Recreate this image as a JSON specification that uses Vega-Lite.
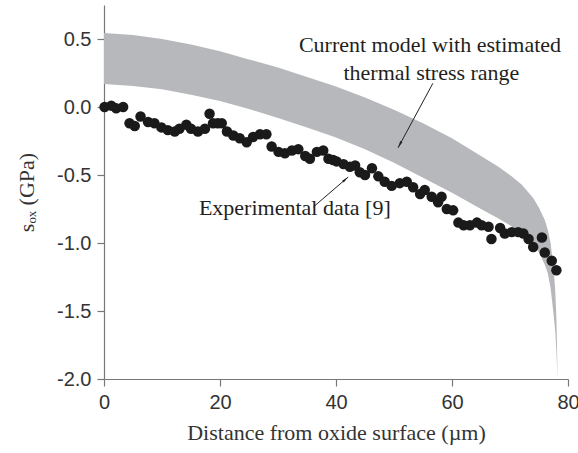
{
  "$schema": "https://vega.github.io/schema/vega-lite/v6.json",
  "width": 464,
  "height": 374,
  "autosize": {"type": "none"},
  "padding": {"left": 104, "top": 5, "right": 10, "bottom": 74},
  "background": "white",
  "config": {
    "view": {"stroke": null},
    "axis": {
      "grid": false,
      "domainColor": "#777777",
      "tickColor": "#777777",
      "domainWidth": 1.2,
      "tickWidth": 1.2,
      "tickSize": 7,
      "labelFont": "Liberation Sans",
      "labelFontSize": 20,
      "labelColor": "#333333",
      "titleFont": "Liberation Serif",
      "titleFontSize": 22,
      "titleFontWeight": "normal",
      "titleColor": "#333333"
    }
  },
  "datasets": {
    "band": [
      {"x": 0, "hi": 0.545, "lo": 0.17},
      {"x": 5, "hi": 0.53, "lo": 0.155},
      {"x": 10, "hi": 0.5, "lo": 0.13},
      {"x": 15, "hi": 0.46, "lo": 0.09},
      {"x": 20, "hi": 0.41, "lo": 0.045},
      {"x": 25, "hi": 0.35, "lo": -0.015},
      {"x": 30, "hi": 0.29, "lo": -0.08},
      {"x": 35, "hi": 0.22, "lo": -0.15},
      {"x": 40, "hi": 0.15, "lo": -0.225},
      {"x": 45, "hi": 0.07, "lo": -0.31},
      {"x": 50, "hi": -0.02, "lo": -0.41},
      {"x": 55, "hi": -0.12, "lo": -0.52},
      {"x": 60, "hi": -0.23, "lo": -0.63},
      {"x": 65, "hi": -0.36, "lo": -0.75},
      {"x": 68, "hi": -0.44, "lo": -0.82},
      {"x": 70, "hi": -0.5, "lo": -0.87},
      {"x": 72, "hi": -0.57, "lo": -0.93},
      {"x": 74, "hi": -0.67, "lo": -1.01},
      {"x": 75, "hi": -0.74, "lo": -1.07},
      {"x": 76, "hi": -0.83, "lo": -1.16},
      {"x": 76.5, "hi": -0.9, "lo": -1.22},
      {"x": 77, "hi": -1.0, "lo": -1.33},
      {"x": 77.5, "hi": -1.18, "lo": -1.52},
      {"x": 77.8, "hi": -1.35, "lo": -1.65},
      {"x": 78.0, "hi": -1.55, "lo": -1.8},
      {"x": 78.1, "hi": -1.75, "lo": -1.9},
      {"x": 78.2, "hi": -2.0, "lo": -2.0}
    ],
    "dots": [
      {"x": 0.1, "y": 0.0}, {"x": 1.26, "y": 0.01}, {"x": 2.1, "y": -0.01}, {"x": 3.3, "y": 0.0},
      {"x": 4.4, "y": -0.12}, {"x": 5.3, "y": -0.14}, {"x": 6.3, "y": -0.07}, {"x": 7.6, "y": -0.11},
      {"x": 8.7, "y": -0.12}, {"x": 9.9, "y": -0.15}, {"x": 11, "y": -0.17}, {"x": 12.2, "y": -0.18},
      {"x": 13, "y": -0.16}, {"x": 14.2, "y": -0.13}, {"x": 15, "y": -0.16}, {"x": 16.2, "y": -0.18},
      {"x": 17.4, "y": -0.16}, {"x": 18.2, "y": -0.05}, {"x": 18.8, "y": -0.12}, {"x": 19.6, "y": -0.12},
      {"x": 20.3, "y": -0.12}, {"x": 21.2, "y": -0.18}, {"x": 22.3, "y": -0.21}, {"x": 23.4, "y": -0.23},
      {"x": 24.6, "y": -0.26}, {"x": 25.7, "y": -0.22}, {"x": 26.9, "y": -0.2}, {"x": 28, "y": -0.2},
      {"x": 28.9, "y": -0.29}, {"x": 30.1, "y": -0.33}, {"x": 31.2, "y": -0.34}, {"x": 32.4, "y": -0.32},
      {"x": 33.5, "y": -0.31}, {"x": 34.7, "y": -0.36}, {"x": 35.5, "y": -0.38}, {"x": 36.7, "y": -0.33},
      {"x": 37.8, "y": -0.32}, {"x": 38.7, "y": -0.38}, {"x": 39.5, "y": -0.39}, {"x": 40.1, "y": -0.4},
      {"x": 41.3, "y": -0.42}, {"x": 42.4, "y": -0.44}, {"x": 43.3, "y": -0.43}, {"x": 44.1, "y": -0.48},
      {"x": 45, "y": -0.5}, {"x": 46.2, "y": -0.45}, {"x": 47.3, "y": -0.51}, {"x": 48.4, "y": -0.55},
      {"x": 49.6, "y": -0.58}, {"x": 51, "y": -0.56}, {"x": 52.2, "y": -0.55}, {"x": 53.3, "y": -0.59},
      {"x": 54.5, "y": -0.64}, {"x": 55.3, "y": -0.61}, {"x": 56.5, "y": -0.66}, {"x": 57.6, "y": -0.7},
      {"x": 58.2, "y": -0.66}, {"x": 59.1, "y": -0.75}, {"x": 60.2, "y": -0.76}, {"x": 61.1, "y": -0.85},
      {"x": 62, "y": -0.87}, {"x": 63.1, "y": -0.87}, {"x": 64.3, "y": -0.85}, {"x": 65.1, "y": -0.87},
      {"x": 66.3, "y": -0.88}, {"x": 66.8, "y": -0.97}, {"x": 68.3, "y": -0.89}, {"x": 69.1, "y": -0.93},
      {"x": 70.3, "y": -0.92}, {"x": 71.4, "y": -0.92}, {"x": 72.3, "y": -0.93}, {"x": 73.2, "y": -0.97},
      {"x": 74, "y": -1.03}, {"x": 75.5, "y": -0.96}, {"x": 76, "y": -1.07}, {"x": 77.2, "y": -1.13},
      {"x": 78, "y": -1.2}
    ],
    "labels": [
      {"x": 56.2, "y": 0.404, "text": "Current model with estimated"},
      {"x": 56.45, "y": 0.201, "text": "thermal stress range"},
      {"x": 32.9, "y": -0.796, "text": "Experimental data [9]"}
    ],
    "arrows": [
      {"x": 56.7, "y": 0.174, "x2": 50.7, "y2": -0.30, "angle": 208},
      {"x": 36.1, "y": -0.735, "x2": 42.1, "y2": -0.515, "angle": 49}
    ]
  },
  "layer": [
    {
      "data": {"name": "band"},
      "mark": {"type": "area", "color": "#b7b8bb", "opacity": 1},
      "encoding": {
        "x": {
          "field": "x", "type": "quantitative",
          "scale": {"domain": [0, 80], "nice": false, "zero": false},
          "axis": {"values": [0, 20, 40, 60, 80], "title": "Distance from oxide surface (µm)", "titlePadding": 10, "labelPadding": 6, "labelFlush": false}
        },
        "y": {
          "field": "hi", "type": "quantitative",
          "scale": {"domain": [-2, 0.75], "nice": false, "zero": false},
          "axis": {"values": [-2, -1.5, -1, -0.5, 0, 0.5], "labelExpr": "replace(format(datum.value, '.1f'), '\u2212', '-')", "title": "sₒₓ (GPa)", "titlePadding": 18, "labelPadding": 6}
        },
        "y2": {"field": "lo"}
      }
    },
    {
      "data": {"name": "dots"},
      "mark": {"type": "point", "filled": true, "shape": "circle", "size": 110, "color": "#1a1a1a", "opacity": 1},
      "encoding": {
        "x": {"field": "x", "type": "quantitative"},
        "y": {"field": "y", "type": "quantitative"}
      }
    },
    {
      "data": {"name": "arrows"},
      "mark": {"type": "rule", "color": "#222222", "strokeWidth": 1},
      "encoding": {
        "x": {"field": "x", "type": "quantitative"},
        "y": {"field": "y", "type": "quantitative"},
        "x2": {"field": "x2"},
        "y2": {"field": "y2"}
      }
    },
    {
      "data": {"name": "arrows"},
      "mark": {"type": "point", "filled": true, "shape": "M0,0L0.4,2.2L-0.4,2.2Z", "size": 40, "color": "#222222", "opacity": 1},
      "encoding": {
        "x": {"field": "x2", "type": "quantitative"},
        "y": {"field": "y2", "type": "quantitative"},
        "angle": {"field": "angle", "type": "quantitative", "scale": null}
      }
    },
    {
      "data": {"name": "labels"},
      "mark": {"type": "text", "font": "Liberation Serif", "fontSize": 22, "color": "#231f20", "align": "center", "baseline": "alphabetic"},
      "encoding": {
        "x": {"field": "x", "type": "quantitative"},
        "y": {"field": "y", "type": "quantitative"},
        "text": {"field": "text"}
      }
    }
  ]
}
